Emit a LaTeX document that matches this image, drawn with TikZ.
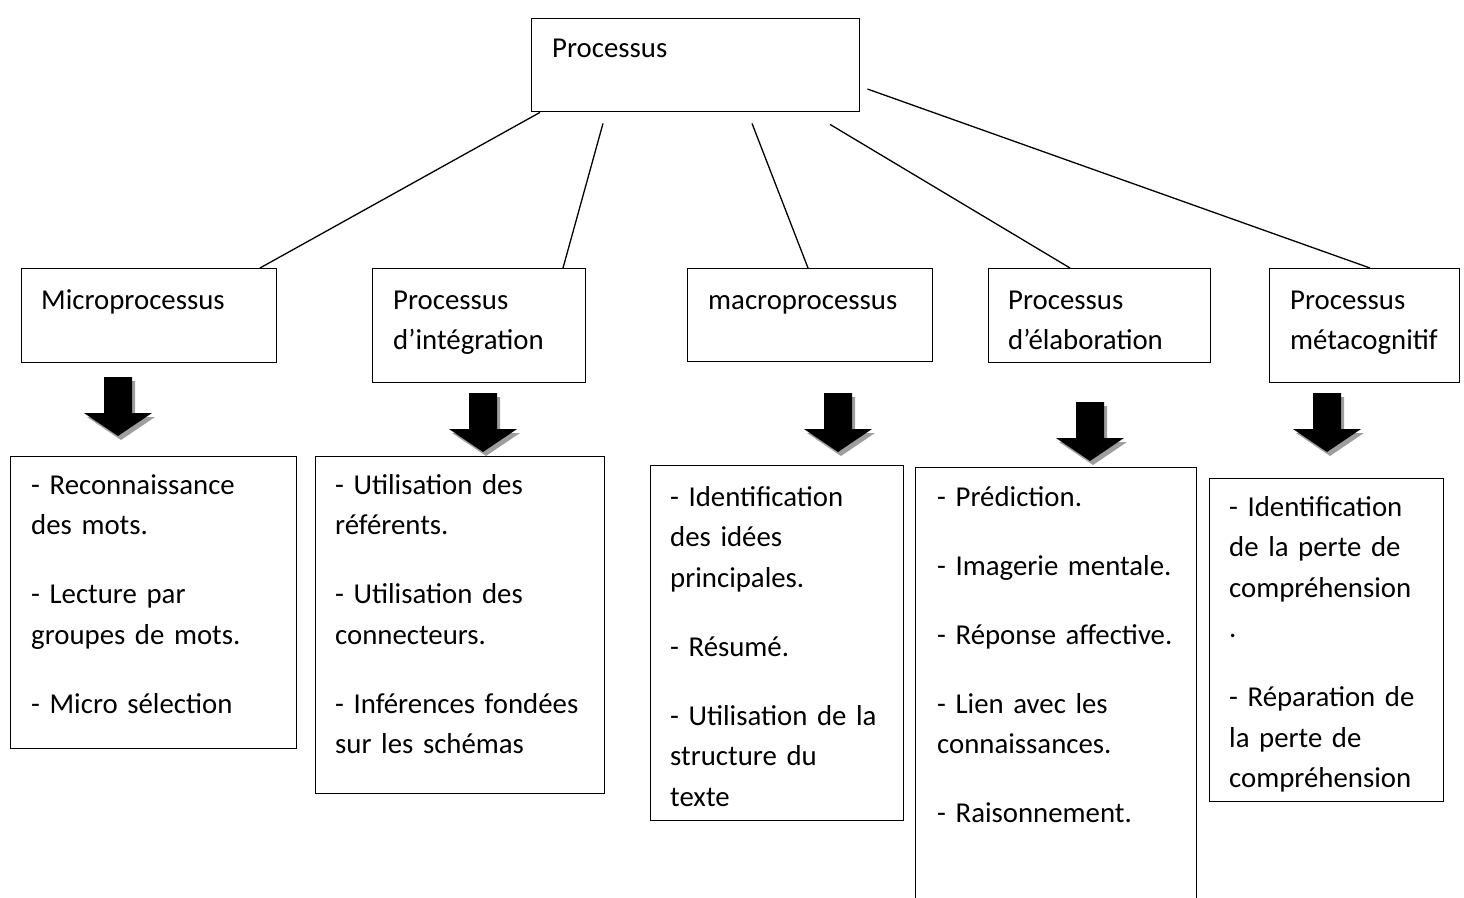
\documentclass[tikz,border=0pt]{standalone}
\usepackage{fontspec}
\setmainfont{Carlito}
\usetikzlibrary{calc}

\tikzset{
  box/.style={draw, line width=1.4pt, anchor=north west, inner sep=0pt},
  txt/.style={anchor=base west, inner sep=0pt, text width=#1, align=left,
    font=\fontsize{28.8}{40.5}\selectfont},
  link/.style={line width=1.3pt},
  downarrow/.pic={
    \fill[black!38] (-11,4) -- (17,4) -- (17,40) -- (37,40) -- (3,63) -- (-31,40) -- (-11,40) -- cycle;
    \fill[black] (-14,0) -- (14,0) -- (14,36) -- (34,36) -- (0,59) -- (-34,36) -- (-14,36) -- cycle;
  }
}

\begin{document}
\begin{tikzpicture}[x=1pt, y=-1pt]
\useasboundingbox (0,0) rectangle (1464,897);
\clip (0,0) rectangle (1464,897);

% root
\node[box, minimum width=328, minimum height=93] (root) at (531,18) {};
\node[txt=300pt] (rootlbl) at (552,57) {Processus};

% second level
\node[box, minimum width=255, minimum height=94]  (micro) at (21,268) {};
\node[box, minimum width=213, minimum height=114] (integ) at (372,268) {};
\node[box, minimum width=245, minimum height=93]  (macro) at (687,268) {};
\node[box, minimum width=222, minimum height=94]  (elab)  at (988,268) {};
\node[box, minimum width=190, minimum height=114] (meta)  at (1269,268) {};

\node[txt=240pt] (microlbl) at (41,309)   {Microprocessus};
\node[txt=200pt] (integlbl) at (393,309)  {Processus\\d’intégration};
\node[txt=230pt] (macrolbl) at (708,309)  {macroprocessus};
\node[txt=210pt] (elablbl)  at (1008,309) {Processus\\d’élaboration};
\node[txt=180pt] (metalbl)  at (1290,309) {Processus\\métacognitif};

% connectors from the root
\coordinate (s1) at ($(root.south west)+(9,0)$);
\coordinate (s2) at ($(root.south west)+(72,11)$);
\coordinate (s3) at ($(root.south west)+(221,11)$);
\coordinate (s4) at ($(root.south west)+(299,12)$);
\coordinate (s5) at ($(root.north east)+(7,71)$);
\draw[link] (s1) -- ($(micro.north west)+(239,0)$);
\draw[link] (s2) -- ($(integ.north west)+(191,0)$);
\draw[link] (s3) -- ($(macro.north west)+(121,0)$);
\draw[link] (s4) -- ($(elab.north west)+(82,0)$);
\draw[link] (s5) -- ($(meta.north west)+(101,0)$);

% block arrows
\pic (a1) at (118,377)  {downarrow};
\pic (a2) at (483,393)  {downarrow};
\pic (a3) at (838,393)  {downarrow};
\pic (a4) at (1090,402) {downarrow};
\pic (a5) at (1327,393) {downarrow};

% detail boxes
\node[box, minimum width=286, minimum height=292] (d1) at (10,456) {};
\node[box, minimum width=289, minimum height=337] (d2) at (315,456) {};
\node[box, minimum width=253, minimum height=355] (d3) at (650,465) {};
\node[box, minimum width=281, minimum height=450] (d4) at (915,467) {};
\node[box, minimum width=234, minimum height=323] (d5) at (1209,478) {};

\node[txt=270pt] (d1txt) at (31,494)
  {- Reconnaissance\\des mots.\\[28.5pt]- Lecture par\\groupes de mots.\\[28.5pt]- Micro sélection};
\node[txt=270pt] (d2txt) at (335,494)
  {- Utilisation des\\référents.\\[28.5pt]- Utilisation des\\connecteurs.\\[28.5pt]- Inférences fondées\\sur les schémas};
\node[txt=240pt] (d3txt) at (670,506)
  {- Identification\\des idées\\principales.\\[28.5pt]- Résumé.\\[28.5pt]- Utilisation de la\\structure du\\texte};
\node[txt=260pt] (d4txt) at (937,506)
  {- Prédiction.\\[28.5pt]- Imagerie mentale.\\[28.5pt]- Réponse affective.\\[28.5pt]- Lien avec les\\connaissances.\\[28.5pt]- Raisonnement.};
\node[txt=220pt] (d5txt) at (1229,516)
  {- Identification\\de la perte de\\compréhension\\.\\[28.5pt]- Réparation de\\la perte de\\compréhension};
\end{tikzpicture}
\end{document}
